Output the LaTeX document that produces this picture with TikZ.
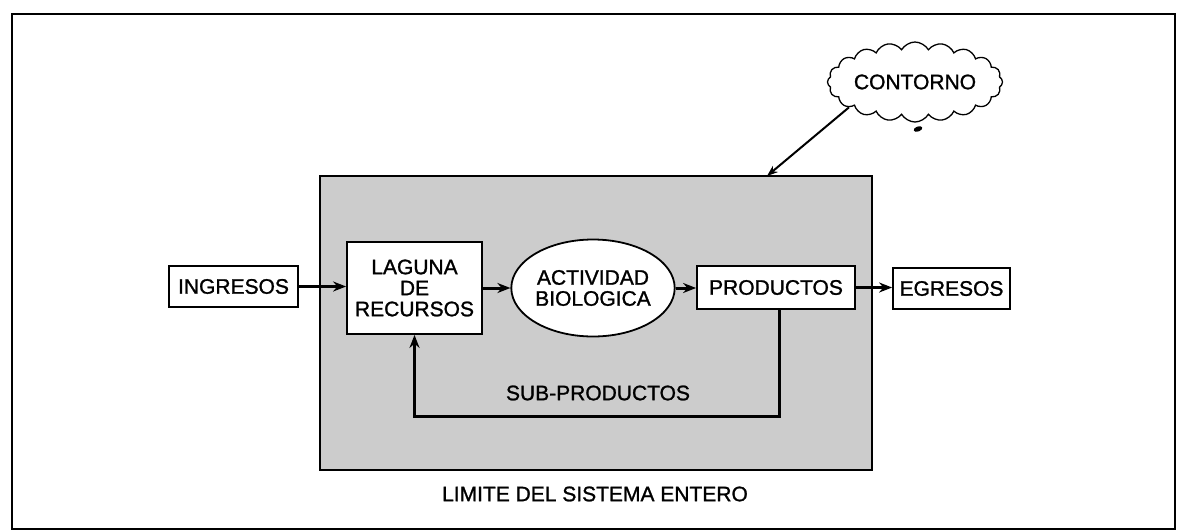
\documentclass[tikz,border=0pt]{standalone}
\usepackage{fontspec}
\setmainfont{Liberation Sans}[FakeBold=1.2]
\usetikzlibrary{shapes.geometric,shapes.symbols,arrows.meta}
\begin{document}
\begin{tikzpicture}[x=1pt,y=-1pt,
  lbl/.style={font=\fontsize{21}{21}\selectfont, align=center, inner sep=0pt},
  boxnode/.style={lbl, draw, line width=1.8pt, fill=white, rectangle},
  flow/.style={line width=3pt, -{Stealth[length=13pt,width=10pt]}},
]
\useasboundingbox (0,0) rectangle (1180,531);
\draw[line width=2.8pt] (12,14) rectangle (1175,529);
\node[draw, line width=1.8pt, fill=black!20, minimum width=552pt, minimum height=294pt, inner sep=0pt] (sys) at (596,323) {};
\node[boxnode, minimum width=129pt, minimum height=41pt] (ing) at (233.5,286.5) {INGRESOS};
\node[boxnode, minimum width=135pt, minimum height=92pt] (lag) at (414.5,288) {LAGUNA\\DE\\RECURSOS};
\node[lbl, draw, ellipse, line width=1.8pt, fill=white, minimum width=141pt, minimum height=97pt] (act) at (593,288) {ACTIVIDAD\\BIOLOGICA};
\node[boxnode, minimum width=158pt, minimum height=43pt] (prod) at (776,287.5) {PRODUCTOS};
\node[boxnode, minimum width=117pt, minimum height=41pt] (egr) at (951.5,288.5) {EGRESOS};
\draw[flow] (ing.east) -- (lag.west |- ing.east);
\draw[flow] (lag.east) -- (act.west);
\draw[flow] (act.east) -- (prod.west |- act.east);
\draw[flow] (prod.east) -- (egr.west |- prod.east);
\coordinate (fb) at (779,416);
\draw[flow] (prod.south -| fb) -- (fb) -| (lag.south);
\node[lbl] (sub) at (598,393) {SUB-PRODUCTOS};
\node[lbl] (lim) at (595,494) {LIMITE DEL SISTEMA ENTERO};
\node[lbl, cloud, draw, line width=1.3pt, fill=white, cloud puffs=20, cloud puff arc=120, cloud ignores aspect, minimum width=175pt, minimum height=80pt] (cld) at (915,82) {CONTORNO};
\coordinate (hit) at (767,176);
\draw[line width=2pt, -{Stealth[length=11pt,width=8pt]}] (cld.201) -- (hit);
\fill[rotate around={20:(918,129)}] (918,129) ellipse [x radius=4.5pt, y radius=2.5pt];
\end{tikzpicture}
\end{document}
